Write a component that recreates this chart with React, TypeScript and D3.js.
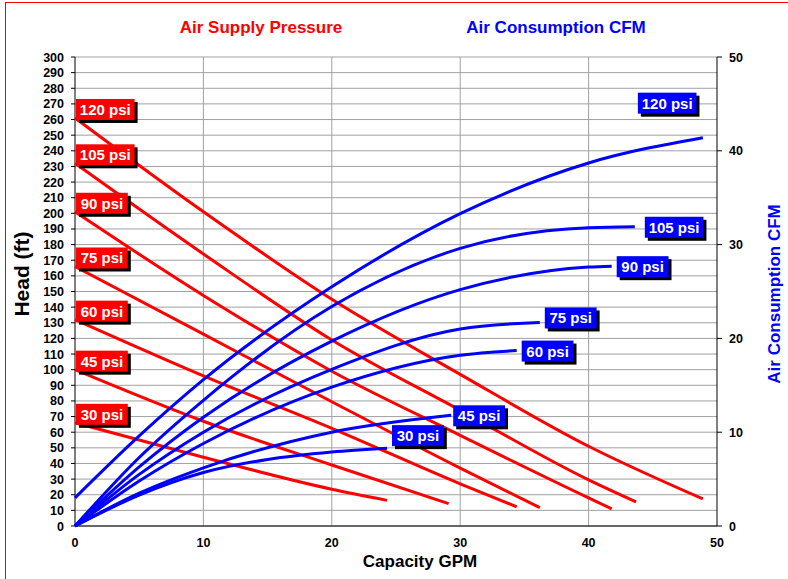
import * as d3 from 'd3';

// pressure settings, lowest first
const pressures = ['30 psi', '45 psi', '60 psi', '75 psi', '90 psi', '105 psi', '120 psi'];

// head (ft) vs capacity (GPM)
const headCurves: [number, number][][] = [
  [[0, 66], [10, 44], [20, 23.5], [24.3, 16.4]],
  [[0, 100], [10, 67], [20, 39], [29.1, 14.3]],
  [[0, 132], [10, 96], [20, 62.5], [30, 27], [34.4, 12.3]],
  [[0, 166], [10, 122.7], [20, 79.5], [30, 37], [36.2, 11.7]],
  [[0, 201], [10, 147.5], [20, 99], [30, 58], [40, 18], [41.8, 11]],
  [[0, 232], [10, 174], [20, 119], [30, 74], [40, 29.5], [43.7, 15.4]],
  [[0, 261], [10, 201], [20, 145], [30, 97], [40, 51], [48.9, 17.3]],
];

// air consumption (CFM) vs capacity (GPM)
const cfmCurves: [number, number][][] = [
  [[0, 0], [5, 3.3], [10, 5.7], [15, 7.1], [20, 7.9], [24.3, 8.3]],
  [[0, 0], [5, 3.5], [10, 6.2], [20, 10.0], [29.3, 11.8]],
  [[0, 0], [5, 4.8], [10, 8.8], [20, 14.8], [30, 18.2], [34.4, 18.7]],
  [[0, 0], [5, 5.5], [10, 10.0], [20, 16.7], [30, 21.0], [36.2, 21.7]],
  [[0, 0], [5, 6.3], [10, 11.6], [20, 19.7], [30, 25.2], [40, 27.6], [41.8, 27.7]],
  [[0, 0], [5, 7.3], [10, 13.4], [20, 23.4], [30, 29.6], [40, 31.8], [43.6, 31.9]],
  [[0, 3.0], [5, 9.6], [10, 15.6], [20, 25.5], [30, 33.3], [40, 38.7], [48.9, 41.4]],
];

const headTicks = d3.range(0, 301, 10);
const gpmTicks = [0, 10, 20, 30, 40, 50];
const cfmTicks = [0, 10, 20, 30, 40, 50];

const W = 788;
const H = 579;
const RED = '#ff0000';
const BLUE = '#0000ff';
const FONT = 'Arial, "Liberation Sans", sans-serif';

const x = d3.scaleLinear().domain([0, 50]).range([75, 717]);
const yHead = d3.scaleLinear().domain([0, 300]).range([526, 57]);
const yCfm = d3.scaleLinear().domain([0, 50]).range([526, 57]);

const headLine = d3.line<[number, number]>()
  .x(d => x(d[0]))
  .y(d => yHead(d[1]))
  .curve(d3.curveMonotoneX);

const cfmLine = d3.line<[number, number]>()
  .x(d => x(d[0]))
  .y(d => yCfm(d[1]))
  .curve(d3.curveMonotoneX);

// rough text width for bold labels
const labelWidth = (s: string) => s.length * 6.8 + 11;

const Label = ({ x0, y0, text, fill }: { x0: number; y0: number; text: string; fill: string }) => {
  const w = labelWidth(text);
  const h = 21;
  return (
    <g>
      <rect x={x0 + 3} y={y0 + 3} width={w} height={h} fill="#000" />
      <rect x={x0} y={y0} width={w} height={h} fill={fill} />
      <text
        x={x0 + w / 2}
        y={y0 + 16}
        textAnchor="middle"
        fill="#fff"
        fontSize={15}
        fontWeight="bold"
        fontFamily={FONT}
      >
        {text}
      </text>
    </g>
  );
};

export default function App() {
  return (
    <svg width={W} height={H} style={{ position: 'absolute', left: 0, top: 0, background: '#fff' }}>
      <rect x={5.5} y={2.5} width={800} height={600} fill="none" stroke={RED} strokeWidth={1} />

      {/* grid */}
      {headTicks.map(t => (
        <line key={'h' + t} x1={x(0)} x2={x(50)} y1={yHead(t)} y2={yHead(t)} stroke="#a0a0a0" strokeWidth={1} />
      ))}
      {gpmTicks.slice(1, -1).map(t => (
        <line key={'v' + t} x1={x(t)} x2={x(t)} y1={yHead(0)} y2={yHead(300)} stroke="#a0a0a0" strokeWidth={1} />
      ))}

      {/* axes */}
      <line x1={x(0)} x2={x(0)} y1={yHead(0)} y2={yHead(300)} stroke="#000" />
      <line x1={x(50)} x2={x(50)} y1={yHead(0)} y2={yHead(300)} stroke="#000" />
      <line x1={x(0)} x2={x(50)} y1={yHead(0)} y2={yHead(0)} stroke="#000" />
      {headTicks.map(t => (
        <g key={'lt' + t}>
          <line x1={x(0) - 4} x2={x(0)} y1={yHead(t)} y2={yHead(t)} stroke="#000" />
          <text x={64} y={yHead(t) + 4.5} textAnchor="end" fontSize={12.5} fontWeight="bold" fontFamily={FONT}>
            {t}
          </text>
        </g>
      ))}
      {cfmTicks.map(t => (
        <g key={'rt' + t}>
          <line x1={x(50)} x2={x(50) + 5} y1={yCfm(t)} y2={yCfm(t)} stroke="#000" />
          <text x={729} y={yCfm(t) + 4.5} fontSize={12.5} fontWeight="bold" fontFamily={FONT}>
            {t}
          </text>
        </g>
      ))}
      {gpmTicks.map(t => (
        <text key={'bt' + t} x={x(t)} y={547} textAnchor="middle" fontSize={12.5} fontWeight="bold" fontFamily={FONT}>
          {t}
        </text>
      ))}

      {/* series */}
      {headCurves.map((c, i) => (
        <path key={'r' + i} d={headLine(c) || ''} fill="none" stroke={RED} strokeWidth={3} />
      ))}
      {cfmCurves.map((c, i) => (
        <path key={'b' + i} d={cfmLine(c) || ''} fill="none" stroke={BLUE} strokeWidth={3} />
      ))}

      {/* red data labels at the start of each head curve */}
      {headCurves.map((c, i) => (
        <Label key={'rl' + i} x0={76} y0={yHead(c[0][1]) - 19} text={pressures[i]} fill={RED} />
      ))}

      {/* blue data labels at the end of each CFM curve */}
      {cfmCurves.map((c, i) => {
        const end = c[c.length - 1];
        const name = pressures[i];
        let lx = x(end[0]) + 5;
        let ly = yCfm(end[1]) - 10;
        if (name === '30 psi') ly -= 13;
        if (name === '45 psi') lx -= 3;
        if (name === '75 psi') ly -= 5;
        if (name === '105 psi') lx += 5;
        if (name === '120 psi') {
          lx = x(end[0]) - 65;
          ly = yCfm(end[1]) - 45;
        }
        return <Label key={'bl' + i} x0={lx} y0={ly} text={name} fill={BLUE} />;
      })}

      {/* titles */}
      <text x={261} y={33} textAnchor="middle" fill={RED} fontSize={17} fontWeight="bold" fontFamily={FONT}>
        Air Supply Pressure
      </text>
      <text x={556} y={33} textAnchor="middle" fill={BLUE} fontSize={17} fontWeight="bold" fontFamily={FONT}>
        Air Consumption CFM
      </text>
      <text x={420} y={567} textAnchor="middle" fontSize={17} fontWeight="bold" fontFamily={FONT}>
        Capacity GPM
      </text>
      <text
        transform="translate(29,274) rotate(-90)"
        textAnchor="middle"
        fontSize={21}
        fontWeight="bold"
        fontFamily={FONT}
      >
        Head (ft)
      </text>
      <text
        transform="translate(780,294) rotate(-90)"
        textAnchor="middle"
        fill={BLUE}
        fontSize={17}
        fontWeight="bold"
        fontFamily={FONT}
      >
        Air Consumption CFM
      </text>
    </svg>
  );
}
